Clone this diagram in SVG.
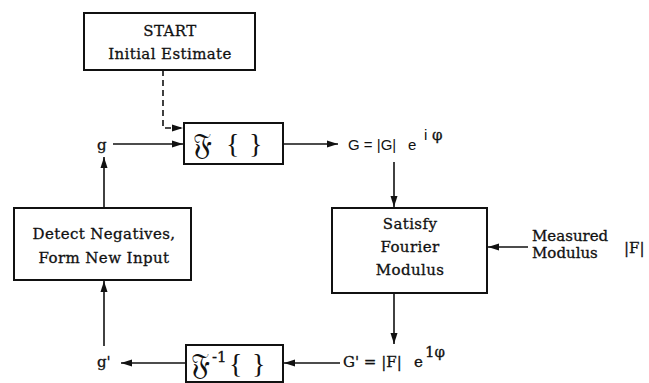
<svg xmlns="http://www.w3.org/2000/svg" width="649" height="383" viewBox="0 0 649 383">
<defs>
<marker id="ah" markerUnits="userSpaceOnUse" markerWidth="12" markerHeight="8" refX="11" refY="4" orient="auto">
<path d="M0,0.5 L11,4 L0,7.5 Z" fill="#111"/>
</marker>
<style>
.box{fill:#fff;stroke:#111;stroke-width:2}
.t{font-family:"DejaVu Serif","Liberation Serif",serif;font-size:15px;letter-spacing:0.4px;fill:#111;stroke:#111;stroke-width:0.3;text-anchor:middle}
.s{font-family:"Liberation Sans","DejaVu Sans",sans-serif;font-size:15px;fill:#111}
.sf{font-family:"DejaVu Serif","Liberation Serif",serif;font-size:15px;fill:#111;stroke:#111;stroke-width:0.3}
.big{font-family:"DejaVu Serif","Noto Sans",serif;font-size:30px;fill:#111}
.br{font-family:"Liberation Serif",serif;font-size:28px;fill:#111}
.c{fill:none;stroke:#111;stroke-width:1.6}
</style>
</defs>
<rect width="649" height="383" fill="#fff"/>
<g id="start">
<rect class="box" x="84" y="13" width="171" height="57"/>
<text class="t" x="170" y="36">START</text>
<text class="t" x="170" y="59">Initial Estimate</text>
</g>
<g id="ft">
<rect class="box" x="184" y="123" width="99" height="41"/>
<text class="big" x="193" y="155">𝔉</text>
<text class="br" x="226" y="153">{</text>
<text class="br" x="249" y="153">}</text>
</g>
<g id="satisfy">
<rect class="box" x="332" y="208" width="155" height="85"/>
<text class="t" x="410" y="229">Satisfy</text>
<text class="t" x="410" y="252">Fourier</text>
<text class="t" x="410" y="275">Modulus</text>
</g>
<g id="detect">
<rect class="box" x="14" y="208" width="177" height="72"/>
<text class="t" x="104" y="239">Detect Negatives,</text>
<text class="t" x="104" y="263">Form New Input</text>
</g>
<g id="ift">
<rect class="box" x="186" y="345" width="97" height="37"/>
<text class="big" x="191" y="375">𝔉</text>
<text class="sf" x="212" y="362" font-size="14">-1</text>
<text class="br" x="229" y="373">{</text>
<text class="br" x="252" y="373">}</text>
</g>
<g id="labels">
<text class="sf" x="97" y="150">g</text>
<text class="s" x="348" y="150">G = |G|</text>
<text class="s" x="408" y="150">e</text>
<text class="s" x="424" y="140" font-size="12">i</text>
<text class="sf" x="432" y="140" font-size="13" stroke-width="0.2">φ</text>
<text class="sf" x="532" y="241">Measured</text>
<text class="sf" x="532" y="258">Modulus</text>
<text class="sf" x="624" y="253">|F|</text>
<text class="sf" x="343" y="367">G' = |F|</text>
<text class="sf" x="414" y="367">e</text>
<text class="sf" x="425" y="357" font-size="13" stroke-width="0.2">1φ</text>
<text class="sf" x="97" y="367">g'</text>
</g>
<g id="connectors">
<path class="c" d="M163,70 V128 H183" stroke-dasharray="6,4" marker-end="url(#ah)"/>
<path class="c" d="M113,144 H183" marker-end="url(#ah)"/>
<path class="c" d="M283,144 H338" marker-end="url(#ah)"/>
<path class="c" d="M394,162 V207" marker-end="url(#ah)"/>
<path class="c" d="M528,247 H488" marker-end="url(#ah)"/>
<path class="c" d="M394,293 V344" marker-end="url(#ah)"/>
<path class="c" d="M340,363 H284" marker-end="url(#ah)"/>
<path class="c" d="M186,363 H121" marker-end="url(#ah)"/>
<path class="c" d="M104,346 V281" marker-end="url(#ah)"/>
<path class="c" d="M104,208 V157" marker-end="url(#ah)"/>
</g>
</svg>
